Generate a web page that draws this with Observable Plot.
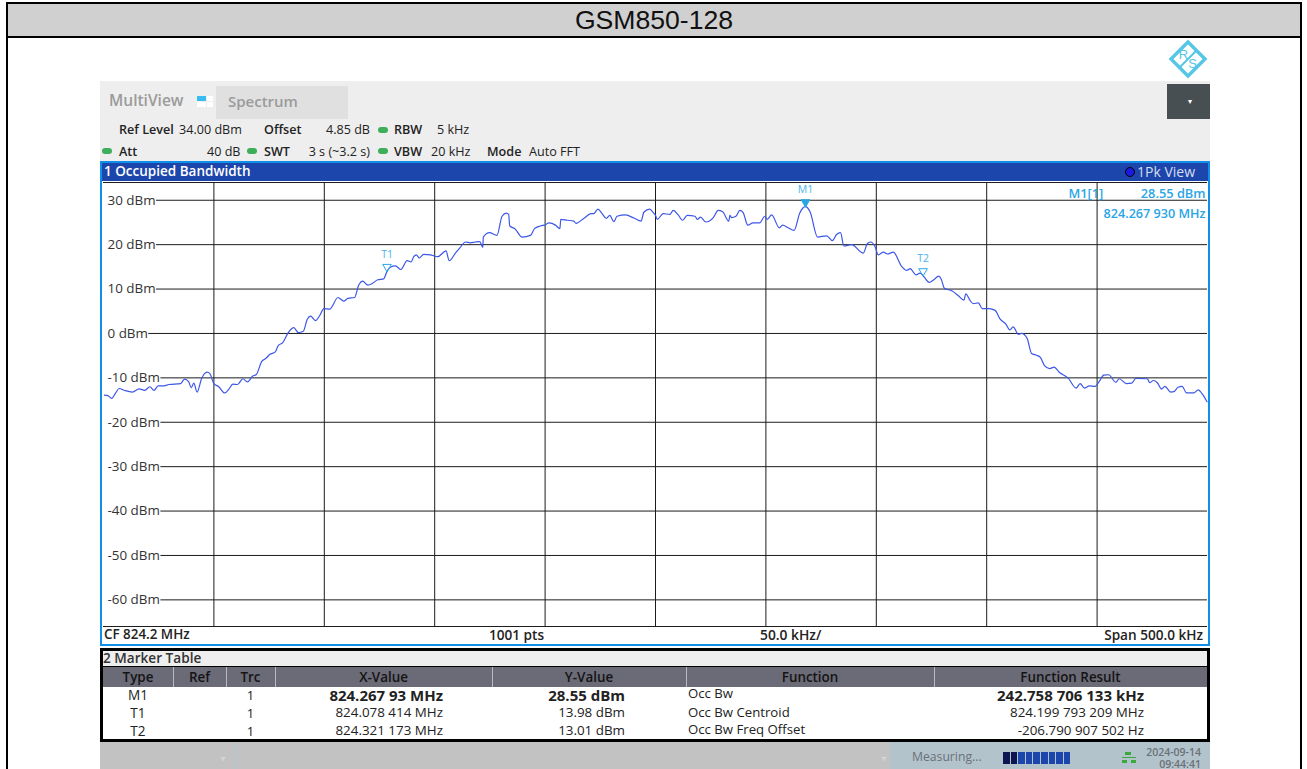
<!DOCTYPE html>
<html><head><meta charset="utf-8">
<script src="https://cdn.jsdelivr.net/npm/d3@7"></script>
<script src="https://cdn.jsdelivr.net/npm/@observablehq/plot@0.6"></script>
<style>
html,body{margin:0;padding:0;background:#fff;width:1307px;height:769px;overflow:hidden}
#page{position:relative;width:1307px;height:769px;font-family:"Open Sans","Noto Sans",sans-serif;color:#222}
.b{position:absolute}
.t{position:absolute;white-space:nowrap;line-height:1;transform:translateY(-50%)}
.r{transform:translate(-100%,-50%)}
.c{transform:translate(-50%,-50%)}
.dot{position:absolute;width:10px;height:6px;border-radius:3px;background:#3fae5a}
svg{display:block}
#plotwrap{position:absolute;left:103px;top:181px}
</style></head><body><div id="page"></div>
<script>
// Trace: offset from start of span (kHz), level (dBm)
const freqKHz=[0.4,1.9,3.7,5.6,7.1,9.4,13.1,16.1,18.7,21,22.9,24.7,27.4,29.6,34.9,36.7,38.6,39.7,40.9,42.4,44.4,46.9,48.1,50,52.2,54.9,56.7,58.6,60.7,63.1,65.2,67.6,69.1,71.7,73.6,75.4,77.7,79.2,81.1,83.7,86.2,88.2,90.5,92.3,93.8,96,98,99.8,102.5,106.2,108.8,110.7,113.7,115.6,117.4,119.7,121.9,124.2,126.9,128.4,129.9,132.2,134.7,137.5,139.3,140.5,141.7,143,145,148,151.4,155.1,156.6,159.4,161.6,163.9,166.2,168.4,170.4,171.8,172,174.8,178.2,180.5,182.5,183.5,184,186.3,189.6,193.4,195.2,197.9,200.2,201.7,204.7,206.7,207.1,210,213,214,217.5,220.8,222,223.9,225.8,227.7,229.3,231.1,232.6,236.4,240.2,243.5,244.7,247.4,249,250,250.8,253.5,256.5,258,260.3,262.2,264.4,267.9,268.9,270.4,272.8,276.2,278.4,280.4,283.2,283.7,284.4,286.4,288.2,289.7,291.8,294.2,297.2,299.5,300.6,302.6,306.1,307.6,310.1,312.7,315.4,317.9,320,323.4,327.5,330.1,332,333.8,335.3,338.8,344.1,345.9,347.4,349.4,350.9,353.2,355,357.7,361.5,363.8,365.3,368,369.8,371.2,374,376,378.3,379.5,380.8,384.2,387.2,389.7,390.5,392.5,394,396.2,398,401,403.8,406,408.7,410.5,412,414.3,415.8,418.3,420.3,422.5,424.3,426.3,428.5,430.5,433,436.8,440.5,442.3,444.3,446.5,449.1,451,453,455.2,458.5,460,463.3,465.7,467.5,472.8,473.8,475.5,477.3,479.2,480.7,483.3,484.8,486.7,488.5,490.5,493.8,495.8,497.6,499.8];
const levelDbm=[-13.9,-14,-14.6,-13.3,-12.4,-12.8,-13.2,-12.5,-12.8,-12,-12.8,-11.8,-11.8,-11.5,-11.3,-10.3,-10.9,-12.2,-11.2,-13.2,-10.2,-8.7,-9,-11.3,-12,-13.4,-12.6,-11.4,-11.5,-10.2,-10.9,-9.6,-9.3,-6.3,-5.6,-4.7,-4.2,-2.7,-2.1,0.2,1.3,0.2,0.5,3.2,3.9,2.9,4.1,5.6,5.5,8.1,7.3,7.9,8.1,10.9,11.8,10.9,11.3,12.1,12.3,13.98,14.9,15.2,14.4,16.4,16.1,17.3,17.7,17,17.8,17.7,17.3,18.6,16.4,18.1,19.4,20.6,20.4,20.6,20.7,19.4,21.7,22.7,22.1,26.4,27.1,26.8,24.2,23.6,21.7,22.1,23.6,24.2,24.5,24.9,24.4,23.6,25.7,25.5,25.3,24.8,25.9,27,27,28,27,25.9,26.6,25.2,26.4,26.7,26,25.3,27.3,28,27.2,26.6,25.7,27,26.8,27.7,26.7,25.5,26.6,26.4,25.7,26.2,25.1,26.1,27.7,27.4,25.3,26.6,26.1,26.4,27.7,27.2,24.4,24.9,24.9,26.4,25.7,26.7,23.8,24.4,23.8,23.2,27.2,28.55,27.4,21.7,22,20.9,22.3,22.7,19.7,20,18.1,20.2,20.6,19.6,17.7,18.3,17.9,18.3,15.1,14.2,14.6,13.2,13.6,13.01,11.5,12.1,12.9,12.1,10.2,9.6,8.5,7.5,8.9,7.4,6.7,6.9,5.6,5.6,5.2,3.3,2.1,0.8,1.5,-0.2,0,-1.1,-4.5,-4.9,-5.4,-7.3,-7.9,-7.6,-8.8,-10,-12.3,-11.3,-12.3,-11.8,-11.9,-10.8,-9.4,-9.3,-11,-10.2,-11.3,-11.2,-10.1,-10.2,-11.1,-10.6,-11.1,-12.5,-11.9,-13.2,-13.1,-12.1,-11.9,-13.4,-13.4,-12.7,-13.6,-15.4];
const levelTicks=[30,20,10,0,-10,-20,-30,-40,-50,-60];
const freqTicks=[50,100,150,200,250,300,350,400,450];
const markerNames=["M1","T1","T2"];
const markerFreqKHz=[317.93,128.41,371.17];
const markerLevels=[28.55,13.98,13.01];
const markerFilled=[true,false,false];
const tableHeaders=["Type","Ref","Trc","X-Value","Y-Value","Function","Function Result"];
const tableTypes=["M1","T1","T2"];
const tableX=["824.267 93 MHz","824.078 414 MHz","824.321 173 MHz"];
const tableY=["28.55 dBm","13.98 dBm","13.01 dBm"];
const tableFn=["Occ Bw","Occ Bw Centroid","Occ Bw Freq Offset"];
const tableResult=["242.758 706 133 kHz","824.199 793 209 MHz","-206.790 907 502 Hz"];

const page=document.getElementById("page");
function box(x,y,w,h,bg,extra){const d=document.createElement("div");d.className="b";d.style.cssText=`left:${x}px;top:${y}px;width:${w}px;height:${h}px;background:${bg};${extra||""}`;page.appendChild(d);return d}
function txt(x,y,s,size,opts){opts=opts||{};const d=document.createElement("div");d.className="t "+(opts.cls||"");d.textContent=s;d.style.cssText=`left:${x}px;top:${y}px;font-size:${size}px;color:${opts.color||"#222"};font-weight:${opts.w||400};${opts.extra||""}`;page.appendChild(d);return d}
function led(x,y){const d=document.createElement("div");d.className="dot";d.style.left=x+"px";d.style.top=y+"px";page.appendChild(d)}

// Outer report frame
box(6,2,1296,35,"#d0d0d0");
box(6,2,1296,2,"#000");box(6,36,1296,2,"#000");
box(6,2,2,767,"#000");box(1300,2,2,767,"#000");
txt(654,20,"GSM850-128",26.6,{cls:"c",color:"#111",extra:'font-family:"Liberation Sans",Arial,sans-serif;'});

// Logo
const logo=document.createElementNS("http://www.w3.org/2000/svg","svg");
logo.setAttribute("width",40);logo.setAttribute("height",40);logo.setAttribute("viewBox","0 0 40 40");
logo.style.cssText="position:absolute;left:1168px;top:39px";
logo.innerHTML='<path d="M20 3L37 20L20 37L3 20Z" fill="none" stroke="#55c6e6" stroke-width="3.4"/><path d="M11 11L29 29" stroke="#55c6e6" stroke-width="2" transform="rotate(90 20 20)"/><text x="15.5" y="20" font-size="13" fill="#55c6e6" text-anchor="middle" font-family="Liberation Sans">R</text><text x="24.5" y="29" font-size="13" fill="#55c6e6" text-anchor="middle" font-family="Liberation Sans">S</text>';
page.appendChild(logo);

// Instrument header
box(100,81,1110,81,"#eeeeee");
txt(109,100.5,"MultiView",15.5,{color:"#9b9b9b",w:600});
box(197,96,9,5,"#39bdf0");box(207,96,6,5,"#fff");box(197,102,9,5,"#fff");box(207,102,6,5,"#fff");
box(216,86,132,33,"#e0e0e0");
txt(228,100.5,"Spectrum",15,{color:"#9b9b9b",w:600});
box(1167,84,43,35,"#474f52");
txt(1189.5,101,"▾",8,{cls:"c",color:"#fff"});
const labels=[[119,129.5,"Ref Level",1],[264,129.5,"Offset",1],[394,129.5,"RBW",1],[119,151.5,"Att",1],[264,151.5,"SWT",1],[394,151.5,"VBW",1],[487,151.5,"Mode",1],[179,130,"34.00 dBm",0],[437,130,"5 kHz",0],[431,152,"20 kHz",0],[529,152,"Auto FFT",0]];
labels.forEach(l=>txt(l[0],l[1],l[2],12.6,{w:l[3]?600:400,color:"#222"}));
[[370,130,"4.85 dB"],[240.5,152,"40 dB"],[370,152,"3 s (~3.2 s)"]].forEach(l=>txt(l[0],l[1],l[2],12.6,{cls:"r"}));
[[378,127],[102,148],[247,148],[378,148]].forEach(p=>led(p[0],p[1]));

// Diagram frame
box(100,161,1110,485,"#0f8fe8");
box(102,163,1105.5,18,"#1c46ac");
box(102,181,1105.5,463,"#fff");
txt(104,171.5,"1 Occupied Bandwidth",13.5,{color:"#fff",w:600});
box(1125,167,10,10,"#1a1ae0","border-radius:50%;border:1.5px solid #000;box-sizing:border-box");
txt(1137,172,"1Pk View",14,{color:"#d8dff0"});
txt(104,635,"CF 824.2 MHz",13.4,{w:600});
txt(489,635,"1001 pts",13.6,{w:600});
txt(760,635,"50.0 kHz/",13.8,{w:600});
txt(1203,635,"Span 500.0 kHz",13.6,{w:600,cls:"r"});

// Plot
const trace=freqKHz.map((f,i)=>({f,l:levelDbm[i]}));
const markers=markerNames.map((n,i)=>({n,f:markerFreqKHz[i],l:markerLevels[i],filled:markerFilled[i]}));
const cyan="#2aa5e6";
const chart=Plot.plot({
  width:1105,height:446,marginLeft:0,marginRight:1,marginTop:1,marginBottom:1,
  style:{background:"transparent",fontFamily:'"Open Sans","Noto Sans",sans-serif',overflow:"visible"},
  x:{domain:[0,500],axis:null},
  y:{domain:[-66,34],axis:null},
  marks:[
    Plot.ruleX(freqTicks,{stroke:"#1c1c1c",strokeWidth:1}),
    Plot.ruleY(levelTicks,{x1:d=>d===0?20.5:(d<0?26:24),x2:500,stroke:"#1c1c1c",strokeWidth:1}),
    Plot.ruleY([34,-66],{stroke:"#1c1c1c",strokeWidth:1}),
    Plot.text(levelTicks,{frameAnchor:"left",dx:4,y:d=>d,text:d=>`${d} dBm`,fontSize:13.4,fill:"#333",textAnchor:"start"}),
    Plot.line(trace,{x:"f",y:"l",stroke:"#3d57e8",strokeWidth:1.2,curve:"monotone-x"}),
    Plot.dot(markers,{x:"f",y:"l",symbol:"triangle",rotate:180,r:3.2,dy:-4.5,stroke:cyan,fill:d=>d.filled?cyan:"none",strokeWidth:1}),
    Plot.text(markers,{x:"f",y:"l",text:"n",dy:-17,fontSize:10.5,fill:"#47b4ea"}),
    Plot.text(["M1[1]"],{x:[437],y:[30],text:d=>d,dy:-6,fontSize:12.8,fontWeight:600,fill:cyan,textAnchor:"start"}),
    Plot.text(["28.55 dBm"],{frameAnchor:"right",y:[30],text:d=>d,dx:-2,dy:-6,fontSize:12.8,fontWeight:600,fill:cyan,textAnchor:"end"}),
    Plot.text(["824.267 930 MHz"],{frameAnchor:"right",y:[30],text:d=>d,dx:-2,dy:14,fontSize:12.6,fontWeight:600,fill:cyan,textAnchor:"end"})
  ]
});
const wrap=document.createElement("div");wrap.id="plotwrap";wrap.appendChild(chart);page.appendChild(wrap);

// Marker table
box(100,648,1110,94,"#000");
box(103,651,1104,15,"#eeeeee");
txt(103,658,"2 Marker Table",13.6,{w:600,color:"#333"});
box(103,667,1104,20,"#6b6a77");
box(103,687,1104,52,"#fff");
const cols=[103,173,226,275,492,686,934,1207];
tableHeaders.forEach((h,i)=>{
  txt((cols[i]+cols[i+1])/2,678,h,13.4,{cls:"c",w:600,color:"#141414"});
  if(i>0)box(cols[i],667,1,20,"#b9b9c2");
});
const rowY=[694.5,713,730.5];
tableTypes.forEach((v,i)=>{
  const big=i==0?15:13.4,w=i==0?700:400;
  txt(138,rowY[i],v,13.6,{cls:"c"});
  txt(250.5,rowY[i],"1",13,{cls:"c"});
  txt(443,rowY[i],tableX[i],big,{cls:"r",w});
  txt(625,rowY[i],tableY[i],big,{cls:"r",w});
  txt(688,rowY[i]-0.5,tableFn[i],13.2);
  txt(1144,rowY[i],tableResult[i],big,{cls:"r",w});
});

// Status bar
box(100,742,790,27,"#c2c2c2");
box(234,742,2,27,"#b8c4cc");
box(890,742,320,27,"#b3c3cc");
txt(222.5,758,"▿",8,{cls:"c",color:"#e8e8e8"});
txt(884,758,"▿",8,{cls:"c",color:"#e8e8e8"});
txt(912,757,"Measuring...",12.2,{color:"#6a7178"});
for(let i=0;i<9;i++)box(1003+i*7.6,752,6.6,12,i<2?"#0c1452":"#1c46ac");
box(1125,752,6,3,"#3aa83a");box(1122,760,5,3,"#3aa83a");box(1131,760,5,3,"#3aa83a");box(1122,757,14,1,"#3aa83a");
txt(1201,752,"2024-09-14",10.5,{cls:"r",color:"#6a7178",w:600});
txt(1201,764,"09:44:41",10.5,{cls:"r",color:"#6a7178",w:600});
</script></body></html>
